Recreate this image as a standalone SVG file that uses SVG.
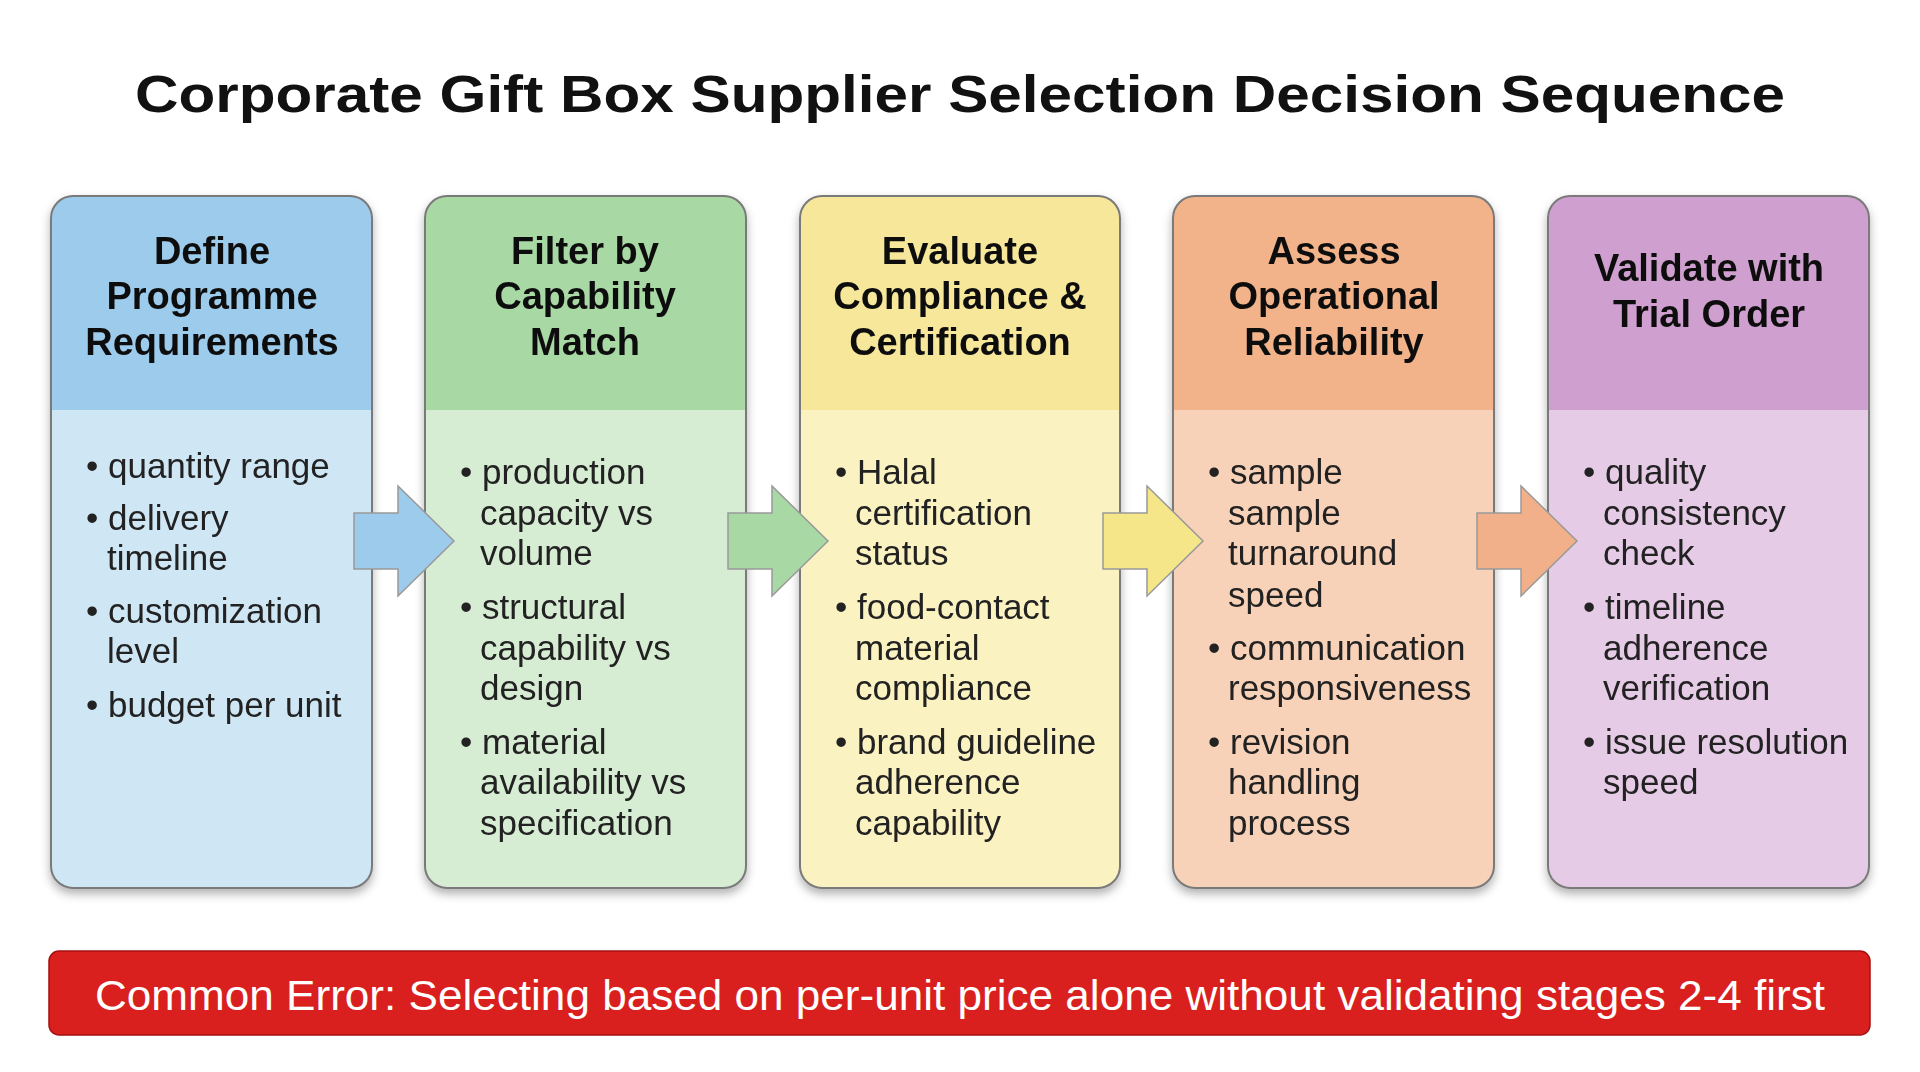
<svg xmlns="http://www.w3.org/2000/svg" width="1920" height="1072" viewBox="0 0 1920 1072">
<style>
.t{font-family:"Liberation Sans",Arial,sans-serif;font-weight:bold;font-size:52px;fill:#111}
.h{font-family:"Liberation Sans",Arial,sans-serif;font-weight:bold;font-size:38px;fill:#111;text-anchor:middle}
.b{font-family:"Liberation Sans",Arial,sans-serif;font-size:35px;fill:#222;dominant-baseline:central}
.e{font-family:"Liberation Sans",Arial,sans-serif;font-size:42px;fill:#fff;text-anchor:middle;dominant-baseline:central}
</style>
<defs>
<filter id="sh" x="-10%" y="-10%" width="120%" height="120%"><feDropShadow dx="0" dy="5" stdDeviation="5" flood-color="#000" flood-opacity="0.3"/></filter>
<path id="arr" d="M0,-28 H44 V-55 L100,0 L44,55 V28 H0 Z" stroke="#999" stroke-width="1.5"/>
</defs>
<rect width="1920" height="1072" fill="#fff"/>
<text class="t" x="960" y="112" text-anchor="middle" textLength="1650" lengthAdjust="spacingAndGlyphs">Corporate Gift Box Supplier Selection Decision Sequence</text>

<g id="n1" filter="url(#sh)">
<rect x="51" y="196" width="321" height="692" rx="22" fill="#cfe6f5"/>
<path d="M51,410 V218 a22,22 0 0 1 22,-22 H350 a22,22 0 0 1 22,22 V410 Z" fill="#9dcbec"/>
<rect x="51" y="196" width="321" height="692" rx="22" fill="none" stroke="#7a7a7a" stroke-width="2"/>
<text class="h" x="212" y="264">Define</text><text class="h" x="212" y="309">Programme</text><text class="h" x="212" y="355">Requirements</text>
<text class="b" x="86" y="465">• quantity range</text>
<text class="b" x="86" y="517">• delivery</text><text class="b" x="107" y="557">timeline</text>
<text class="b" x="86" y="610">• customization</text><text class="b" x="107" y="650">level</text>
<text class="b" x="86" y="704">• budget per unit</text>
</g>
<g id="n2" filter="url(#sh)">
<rect x="425" y="196" width="321" height="692" rx="22" fill="#d6ecd3"/>
<path d="M425,410 V218 a22,22 0 0 1 22,-22 H724 a22,22 0 0 1 22,22 V410 Z" fill="#a8d8a4"/>
<rect x="425" y="196" width="321" height="692" rx="22" fill="none" stroke="#7a7a7a" stroke-width="2"/>
<text class="h" x="585" y="264">Filter by</text><text class="h" x="585" y="309">Capability</text><text class="h" x="585" y="355">Match</text>
<text class="b" x="460" y="471">• production</text><text class="b" x="480" y="512">capacity vs</text><text class="b" x="480" y="552">volume</text>
<text class="b" x="460" y="606">• structural</text><text class="b" x="480" y="647">capability vs</text><text class="b" x="480" y="687">design</text>
<text class="b" x="460" y="741">• material</text><text class="b" x="480" y="781">availability vs</text><text class="b" x="480" y="822">specification</text>
</g>
<g id="n3" filter="url(#sh)">
<rect x="800" y="196" width="320" height="692" rx="22" fill="#fbf2c2"/>
<path d="M800,410 V218 a22,22 0 0 1 22,-22 H1098 a22,22 0 0 1 22,22 V410 Z" fill="#f7e79a"/>
<rect x="800" y="196" width="320" height="692" rx="22" fill="none" stroke="#7a7a7a" stroke-width="2"/>
<text class="h" x="960" y="264">Evaluate</text><text class="h" x="960" y="309">Compliance &amp;</text><text class="h" x="960" y="355">Certification</text>
<text class="b" x="835" y="471">• Halal</text><text class="b" x="855" y="512">certification</text><text class="b" x="855" y="552">status</text>
<text class="b" x="835" y="606">• food-contact</text><text class="b" x="855" y="647">material</text><text class="b" x="855" y="687">compliance</text>
<text class="b" x="835" y="741">• brand guideline</text><text class="b" x="855" y="781">adherence</text><text class="b" x="855" y="822">capability</text>
</g>
<g id="n4" filter="url(#sh)">
<rect x="1173" y="196" width="321" height="692" rx="22" fill="#f8d2b8"/>
<path d="M1173,410 V218 a22,22 0 0 1 22,-22 H1472 a22,22 0 0 1 22,22 V410 Z" fill="#f2b38a"/>
<rect x="1173" y="196" width="321" height="692" rx="22" fill="none" stroke="#7a7a7a" stroke-width="2"/>
<text class="h" x="1334" y="264">Assess</text><text class="h" x="1334" y="309">Operational</text><text class="h" x="1334" y="355">Reliability</text>
<text class="b" x="1208" y="471">• sample</text><text class="b" x="1228" y="512">sample</text><text class="b" x="1228" y="552">turnaround</text><text class="b" x="1228" y="594">speed</text>
<text class="b" x="1208" y="647">• communication</text><text class="b" x="1228" y="687">responsiveness</text>
<text class="b" x="1208" y="741">• revision</text><text class="b" x="1228" y="781">handling</text><text class="b" x="1228" y="822">process</text>
</g>
<g id="n5" filter="url(#sh)">
<rect x="1548" y="196" width="321" height="692" rx="22" fill="#e6cbe6"/>
<path d="M1548,410 V218 a22,22 0 0 1 22,-22 H1847 a22,22 0 0 1 22,22 V410 Z" fill="#cfa0cf"/>
<rect x="1548" y="196" width="321" height="692" rx="22" fill="none" stroke="#7a7a7a" stroke-width="2"/>
<text class="h" x="1709" y="281">Validate with</text><text class="h" x="1709" y="327">Trial Order</text>
<text class="b" x="1583" y="471">• quality</text><text class="b" x="1603" y="512">consistency</text><text class="b" x="1603" y="552">check</text>
<text class="b" x="1583" y="606">• timeline</text><text class="b" x="1603" y="647">adherence</text><text class="b" x="1603" y="687">verification</text>
<text class="b" x="1583" y="741">• issue resolution</text><text class="b" x="1603" y="781">speed</text>
</g>
<g id="connectors">
<use href="#arr" x="354" y="541" fill="#9dcbec"/>
<use href="#arr" x="728" y="541" fill="#a8d8a4"/>
<use href="#arr" x="1103" y="541" fill="#f5e68a"/>
<use href="#arr" x="1477" y="541" fill="#f2b08a"/>
</g>
<g id="error">
<rect x="49" y="951" width="1821" height="84" rx="10" fill="#d9201e" stroke="#a51010" stroke-width="1.5"/>
<text class="e" x="960" y="995" textLength="1730" lengthAdjust="spacingAndGlyphs">Common Error: Selecting based on per-unit price alone without validating stages 2-4 first</text>
</g>
</svg>
